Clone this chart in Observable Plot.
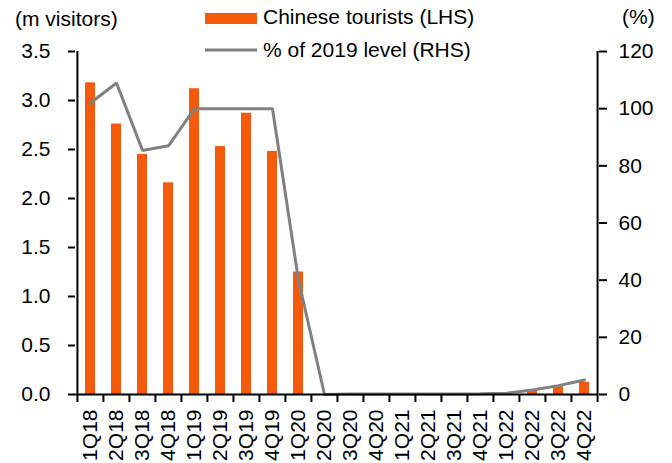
<!DOCTYPE html>
<html><head><meta charset="utf-8">
<script src="https://cdn.jsdelivr.net/npm/d3@7"></script>
<script src="https://cdn.jsdelivr.net/npm/@observablehq/plot@0.6"></script>
<style>
body{margin:0;background:#fff;}
#wrap{position:relative;width:672px;height:463px;font-family:"Liberation Sans",Arial,sans-serif;}
#wrap svg{display:block;}
#overlay{position:absolute;left:0;top:0;pointer-events:none;}
</style></head>
<body><div id="wrap"></div>
<script>
const quarters = ["1Q18","2Q18","3Q18","4Q18","1Q19","2Q19","3Q19","4Q19","1Q20","2Q20",
                  "3Q20","4Q20","1Q21","2Q21","3Q21","4Q21","1Q22","2Q22","3Q22","4Q22"];
const tourists = [3.18,2.76,2.45,2.16,3.12,2.53,2.87,2.48,1.25,0.0,
                  0.0,0.0,0.0,0.0,0.0,0.0,0.005,0.04,0.08,0.125];
const pctOf2019 = [102,109,85.4,87,100,100,100,100,40,0,
                   0.2,0.2,0.2,0.2,0.2,0.25,0.45,1.6,3.1,5.1];
const leftTicks = [0,0.5,1.0,1.5,2.0,2.5,3.0,3.5];
const rightTicks = [0,20,40,60,80,100,120];
const seriesNames = ["Chinese tourists (LHS)","% of 2019 level (RHS)"];
const unitLeft = "(m visitors)";
const unitRight = "(%)";

const orange = "#f55a0c", gray = "#808080";
const W = 672, H = 463, mL = 75, mR = 74, mT = 51, mB = 69;
const leftMax = 3.5, rightMax = 120;
const toLeft = v => v * leftMax / rightMax;
const bw = (W - mL - mR) / quarters.length;
const tickLen = 8 * leftMax / (H - mT - mB);

const data = quarters.map((q, i) => ({q, tourists: tourists[i], pct: pctOf2019[i]}));

const chart = Plot.plot({
  width: W, height: H,
  marginLeft: mL, marginRight: mR, marginTop: mT, marginBottom: mB,
  style: {fontSize: "21px", fontFamily: "'Liberation Sans', Arial, sans-serif", color: "#000", background: "#fff"},
  x: {type: "band", domain: quarters, padding: 0, axis: null},
  y: {domain: [0, leftMax], axis: null},
  marks: [
    Plot.barY(data, {x: "q", y: "tourists", fill: orange, insetLeft: 8, insetRight: 8}),
    Plot.line(data, {x: "q", y: d => toLeft(d.pct), stroke: gray, strokeWidth: 3, strokeLinejoin: "miter"}),
    Plot.ruleY([0], {stroke: "#000", strokeWidth: 2}),
    Plot.ruleX([quarters[0]], {dx: -bw/2, y1: 0, y2: leftMax, stroke: "#000", strokeWidth: 2}),
    Plot.ruleX([quarters[quarters.length-1]], {dx: bw/2, y1: 0, y2: leftMax, stroke: "#000", strokeWidth: 2}),
    Plot.ruleX(quarters, {x: d => d, dx: -bw/2, y1: 0, y2: -tickLen, stroke: "#000", strokeWidth: 2}),
    Plot.ruleX([quarters[quarters.length-1]], {dx: bw/2, y1: 0, y2: -tickLen, stroke: "#000", strokeWidth: 2}),
    Plot.axisY(leftTicks, {anchor: "left", label: null, fontSize: 21, tickSize: 7, tickPadding: 18, strokeWidth: 2, tickFormat: d => d.toFixed(1)}),
    Plot.axisY(rightTicks.map(toLeft), {anchor: "right", label: null, fontSize: 21, tickSize: 8, tickPadding: 12, strokeWidth: 2, tickFormat: d => String(Math.round(d * rightMax / leftMax))}),
    Plot.axisX({anchor: "bottom", label: null, fontSize: 21, tickSize: 0, tickPadding: 15, tickRotate: -90})
  ]
});
const wrap = document.getElementById("wrap");
wrap.appendChild(chart);

// Legend and unit labels overlay
const ov = d3.select(wrap).append("svg").attr("id", "overlay")
  .attr("width", W).attr("height", H)
  .style("font-family", "'Liberation Sans', Arial, sans-serif").style("font-size", "21px");
ov.append("text").attr("x", 15).attr("y", 26).text(unitLeft);
ov.append("text").attr("x", 622).attr("y", 24).text(unitRight);
ov.append("rect").attr("x", 205).attr("y", 13).attr("width", 52).attr("height", 11).attr("fill", orange);
ov.append("text").attr("x", 263).attr("y", 24).text(seriesNames[0]);
ov.append("line").attr("x1", 205).attr("x2", 257).attr("y1", 50).attr("y2", 50).attr("stroke", gray).attr("stroke-width", 3);
ov.append("text").attr("x", 263).attr("y", 57).text(seriesNames[1]);
</script>
</body></html>
